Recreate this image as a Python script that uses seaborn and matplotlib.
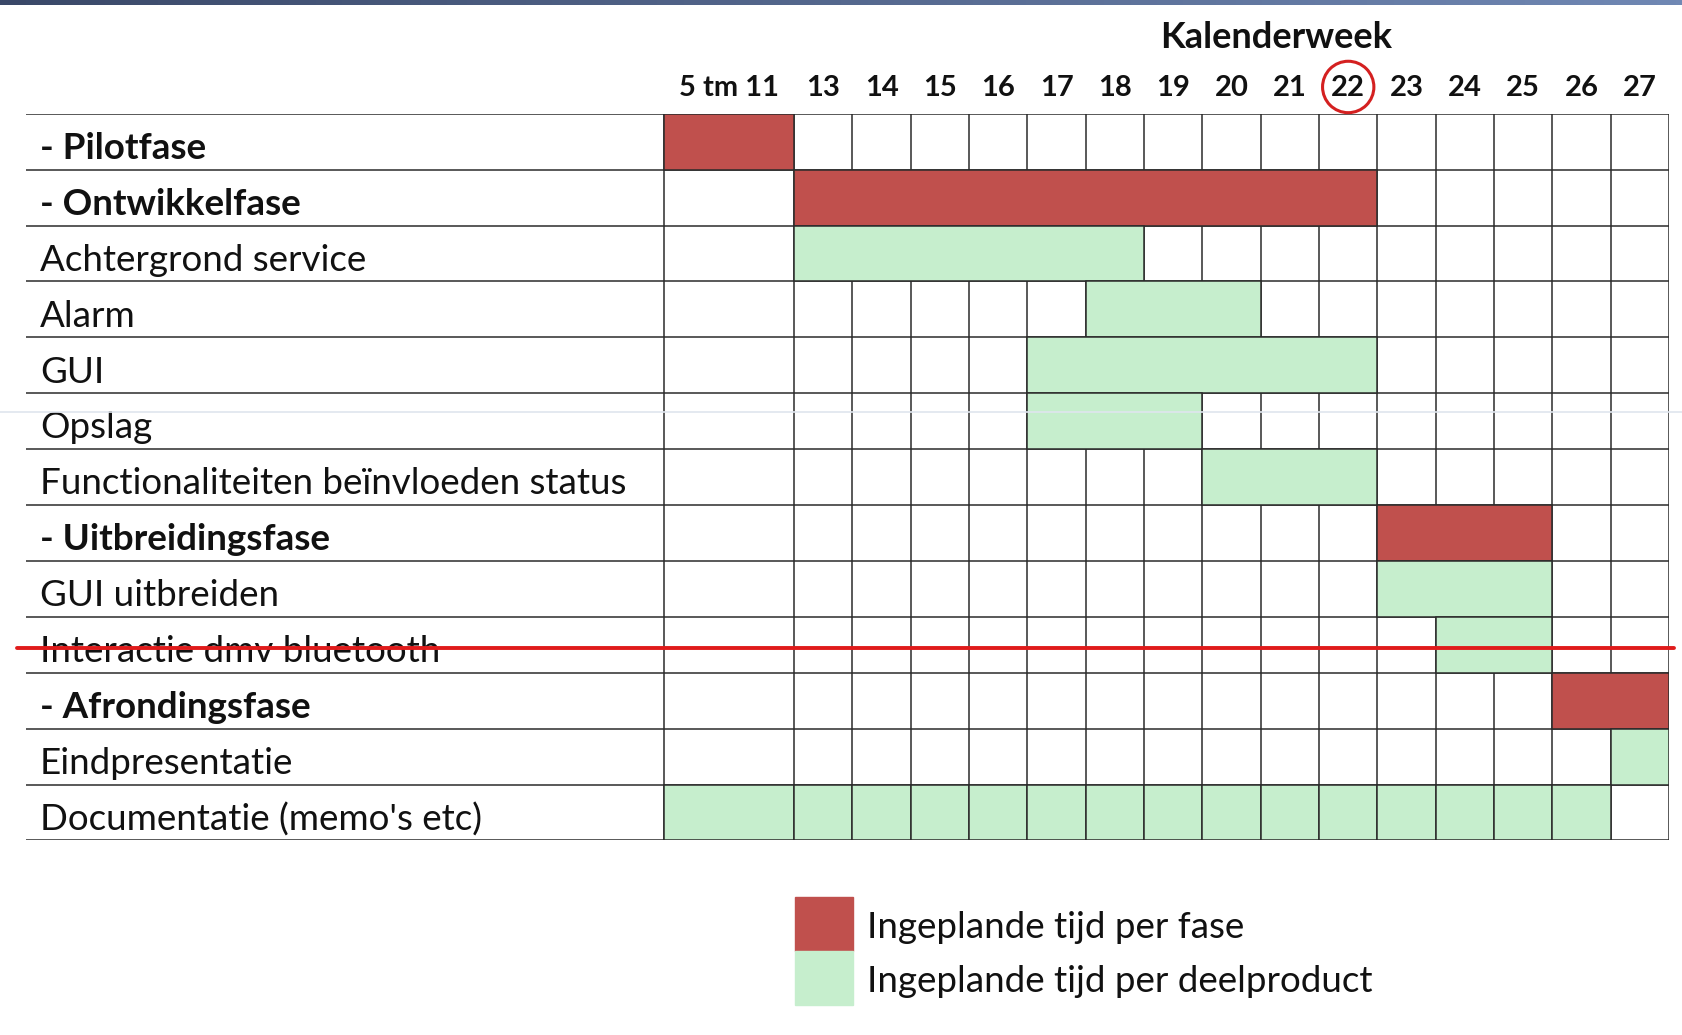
import numpy as np
import pandas as pd
import matplotlib
matplotlib.use("Agg")
import matplotlib.pyplot as plt
from matplotlib.patches import Rectangle, Ellipse
import seaborn as sns

# data
columns = ["5 tm 11", "13", "14", "15", "16", "17", "18", "19", "20",
           "21", "22", "23", "24", "25", "26", "27"]
tasks = ["- Pilotfase", "- Ontwikkelfase", "Achtergrond service", "Alarm", "GUI",
         "Opslag", "Functionaliteiten beïnvloeden status", "- Uitbreidingsfase",
         "GUI uitbreiden", "Interactie dmv bluetooth", "- Afrondingsfase",
         "Eindpresentatie", "Documentatie (memo's etc)"]
starts = ["5 tm 11", "13", "13", "18", "17", "17", "20", "23", "23", "24", "26", "27", "5 tm 11"]
ends = ["5 tm 11", "22", "18", "20", "22", "19", "22", "25", "25", "25", "27", "27", "26"]
kinds = ["fase", "fase", "deel", "deel", "deel", "deel", "deel", "fase",
         "deel", "deel", "fase", "deel", "deel"]
per_cell_rows = ["Documentatie (memo's etc)"]
struck_rows = ["Interactie dmv bluetooth"]
current_week = "22"
legend_labels = {"fase": "Ingeplande tijd per fase",
                 "deel": "Ingeplande tijd per deelproduct"}

colors = {"fase": "#c0504d", "deel": "#c6eecd"}
GRID = "#2b2b2b"

# layout: first column is wider than one week
first_span = 2.23
label_span = 10.94
edges = np.concatenate([[0.0], first_span + np.arange(len(columns))])
col_left = dict(zip(columns, edges[:-1]))
col_right = dict(zip(columns, edges[1:]))

df = pd.DataFrame({"task": tasks, "start": starts, "end": ends, "kind": kinds})
df["x0"] = df["start"].map(col_left)
df["x1"] = df["end"].map(col_right)

sns.set_theme(style="white")
plt.rcParams["font.family"] = ["Lato", "DejaVu Sans"]

W, H = 1683, 1035
fig = plt.figure(figsize=(W / 100, H / 100), dpi=100)
fig.patch.set_facecolor("white")

top_px, bot_px = 113.8, 840.4
ax = fig.add_axes([26 / W, 1 - bot_px / H, (1669 - 26) / W, (bot_px - top_px) / H])
ax.set_xlim(-label_span, edges[-1])
ax.set_ylim(len(tasks), 0)
ax.axis("off")

# bars
for i, row in df.iterrows():
    c = colors[row["kind"]]
    if row["task"] in per_cell_rows:
        i0 = columns.index(row["start"])
        i1 = columns.index(row["end"])
        for k in range(i0, i1 + 1):
            ax.barh(i + 0.5, edges[k + 1] - edges[k], left=edges[k], height=1,
                    color=c, edgecolor=GRID, linewidth=1.1, zorder=3)
    else:
        ax.barh(i + 0.5, row["x1"] - row["x0"], left=row["x0"], height=1,
                color=c, edgecolor=GRID, linewidth=1.1, zorder=3)

# grid
ax.hlines(np.arange(len(tasks) + 1), -label_span, edges[-1], color=GRID, lw=1.1, zorder=2)
ax.vlines(edges, 0, len(tasks), color=GRID, lw=1.1, zorder=2)

# row labels
for i, t in enumerate(tasks):
    bold = t.startswith("- ")
    ax.text(-label_span + 0.24, i + 0.62, t, va="center", ha="left",
            fontsize=26.5, fontweight="bold" if bold else "normal", color="#111111")

# column headers
for c in columns:
    xc = (col_left[c] + col_right[c]) / 2
    ax.text(xc, -0.46, c, ha="center", va="center", fontsize=21,
            fontweight="bold", color="#111111", clip_on=False)
ax.text(10.5, -1.36, "Kalenderweek", ha="center", va="center", fontsize=26,
        fontweight="bold", color="#111111", clip_on=False)

xc = (col_left[current_week] + col_right[current_week]) / 2
ax.add_patch(Ellipse((xc, -0.48), 0.88, 0.92, fill=False, edgecolor="#d42020",
                     lw=2.2, clip_on=False, zorder=5))

# strikethrough
for t in struck_rows:
    yi = tasks.index(t) + 0.556
    ax.plot([-11.10, 17.32], [yi, yi], color="#e01b1b", lw=2.8, clip_on=False, zorder=6)

# legend
for j, (k, lab) in enumerate(legend_labels.items()):
    y0 = 897 + j * 54
    fig.patches.append(Rectangle((795 / W, 1 - (y0 + 54) / H), 58 / W, 54 / H,
                                 transform=fig.transFigure, color=colors[k]))
    fig.text(867 / W, 1 - (y0 + 31) / H, lab, ha="left", va="center",
             fontsize=26.5, color="#111111")

# top band and scan line from the screenshot
band = fig.add_axes([0, 1 - 5 / H, 1, 5 / H])
band.imshow(np.linspace(0, 1, 256)[None, :], aspect="auto",
            cmap=matplotlib.colors.LinearSegmentedColormap.from_list("b", ["#3a4868", "#7088b4"]))
band.axis("off")
fig.add_artist(plt.Line2D([0, 1], [1 - 412 / H] * 2, color="#dfe5ee", lw=1.2))

fig.savefig("out.png", dpi=100)
